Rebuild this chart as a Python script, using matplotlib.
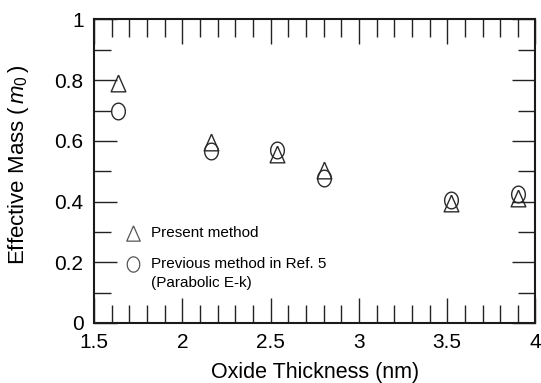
import matplotlib
matplotlib.use("Agg")
import matplotlib.pyplot as plt
from matplotlib.ticker import MultipleLocator, FixedLocator
import numpy as np

plt.rcParams['font.family'] = ['Liberation Sans', 'DejaVu Sans']
plt.rcParams['mathtext.fontset'] = 'custom'
plt.rcParams['mathtext.rm'] = 'Liberation Sans'
plt.rcParams['mathtext.it'] = 'Liberation Sans:italic'

# Data
thickness = [1.636, 2.164, 2.535, 2.80, 3.52, 3.90]
present_method = [0.792, 0.596, 0.556, 0.504, 0.396, 0.411]
previous_method = [0.700, 0.568, 0.570, 0.477, 0.405, 0.425]

x_ticks = [1.5, 2, 2.5, 3, 3.5, 4]
x_tick_labels = ["1.5", "2", "2.5", "3", "3.5", "4"]
y_ticks = [0, 0.2, 0.4, 0.6, 0.8, 1]
y_tick_labels = ["0", "0.2", "0.4", "0.6", "0.8", "1"]

legend_labels = ["Present method", "Previous method in Ref. 5", "(Parabolic E-k)"]

tri = [(0, 1), (-0.88, -1), (0.88, -1), (0, 1)]
th = np.linspace(0, 2 * np.pi, 60)
ell = list(zip(0.82 * np.sin(th), np.cos(th)))

fig = plt.figure(figsize=(5.41, 3.83), dpi=100)
ax = fig.add_axes([0.1738, 0.1567, 0.816, 0.7924])

ec = '#2a2a2a'
ax.plot(thickness, present_method, linestyle='none', marker=tri, ms=12,
        mfc='none', mec=ec, mew=1.0)
ax.plot(thickness, previous_method, linestyle='none', marker=ell, ms=12,
        mfc='none', mec=ec, mew=1.0)

ax.set_xlim(1.5, 4)
ax.set_ylim(0, 1)
ax.xaxis.set_major_locator(FixedLocator(x_ticks))
ax.set_xticklabels(x_tick_labels)
ax.yaxis.set_major_locator(FixedLocator(y_ticks))
ax.set_yticklabels(y_tick_labels)
ax.xaxis.set_minor_locator(MultipleLocator(0.1))
ax.yaxis.set_minor_locator(MultipleLocator(0.1))

ax.tick_params(axis='x', which='major', direction='in', length=18, width=1.0,
               top=True, bottom=True, labelsize=15, pad=7.0, color='#222222')
ax.tick_params(axis='x', which='minor', direction='in', length=13, width=1.0,
               top=True, bottom=True, color='#222222')
ax.tick_params(axis='y', which='major', direction='in', length=16.5, width=1.0,
               left=True, right=True, labelsize=15, pad=7.5, color='#222222')
ax.tick_params(axis='y', which='minor', direction='in', length=12.5, width=1.0,
               left=True, right=True, color='#222222')

for s in ax.spines.values():
    s.set_linewidth(1.5)
    s.set_color('#1a1a1a')

ax.set_xlabel("Oxide Thickness (nm)", fontsize=15.5)
ax.set_ylabel(r"Effective Mass ($\,m_0\,$)", fontsize=16)
ax.xaxis.set_label_coords(0.5, -0.13)
ax.yaxis.set_label_coords(-0.143, 0.521)

# Legend (drawn in axes coordinates)
ax.plot([0.088], [0.296], transform=ax.transAxes, linestyle='none', marker=tri,
        ms=11, mfc='none', mec='#555555', mew=0.9)
ax.plot([0.088], [0.194], transform=ax.transAxes, linestyle='none', marker=ell,
        ms=11, mfc='none', mec='#555555', mew=0.9)
ax.text(0.128, 0.296, legend_labels[0], transform=ax.transAxes, fontsize=11,
        va='center', ha='left')
ax.text(0.128, 0.194, legend_labels[1], transform=ax.transAxes, fontsize=11,
        va='center', ha='left')
ax.text(0.128, 0.131, legend_labels[2], transform=ax.transAxes, fontsize=11,
        va='center', ha='left')

fig.savefig("out.png", dpi=100)
